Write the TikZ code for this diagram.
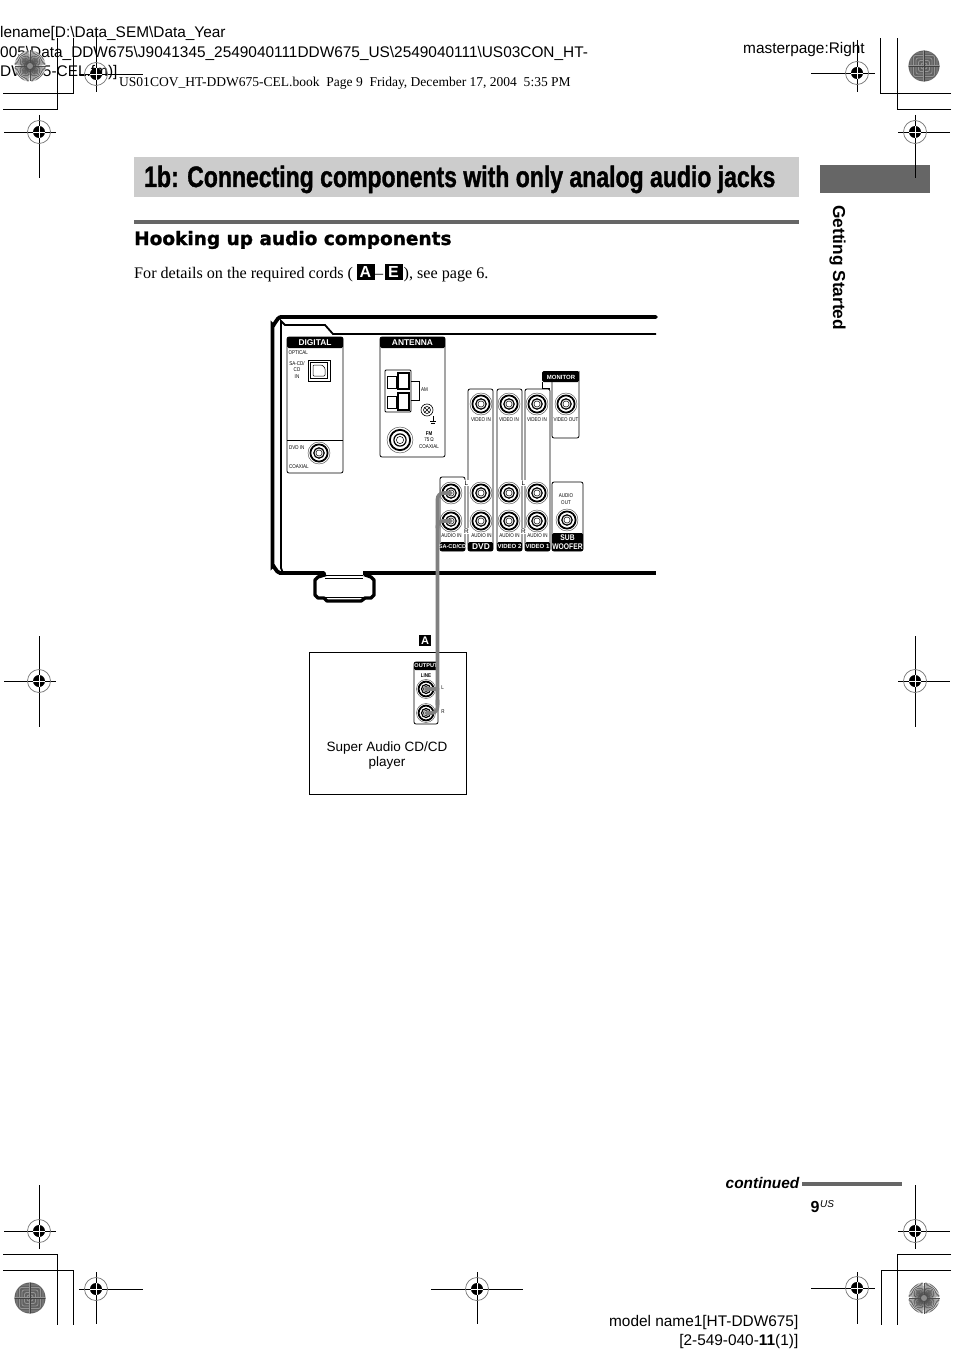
\documentclass[tikz,border=0pt]{standalone}
\usepackage{fontspec}
\setmainfont{Liberation Serif}
\setsansfont{Liberation Sans}
\newfontfamily\titlefont[FakeStretch=0.78,FakeBold=1.2]{Liberation Sans Bold}
\newfontfamily\headfont[FakeBold=1.2]{DejaVu Sans Bold}
\newfontfamily\narrowfont[FakeStretch=0.82]{Liberation Sans}
\usetikzlibrary{positioning}
\def\fs#1#2{\fontsize{#1}{#2}\selectfont}
\def\regmark#1#2#3#4#5#6{%
  \draw[regline] (#3,#2) -- (#4,#2) (#1,#5) -- (#1,#6);
  \draw[black!55, line width=.7pt] (#1,#2) circle (11.5);
  \fill (#1,#2) circle (6);
  \draw[white, line width=.7pt] (#1-6,#2) -- (#1+6,#2) (#1,#2-6) -- (#1,#2+6);}
\def\spokedisc#1#2{%
  \fill[white] (#1,#2) circle (15.5);
  \foreach \a in {0,5,...,355} \draw[black!70, line width=.55pt] (#1,#2) -- ++(\a:15.5);
  \fill[black!45] (#1,#2) circle (3);}
\def\darkdisc#1#2{%
  \begin{scope}
    \clip (#1,#2) circle (15.5);
    \fill[black!62] (#1-16,#2-16) rectangle (#1+16,#2+16);
    \foreach \r in {3,5.5,8,10.5,13}
      \draw[black!42, line width=.8pt, rounded corners=2pt] (#1-\r,#2-\r) rectangle (#1+\r,#2+\r);
    \draw[black!42, line width=2.5pt] (#1-16,#2) -- (#1+16,#2) (#1,#2-16) -- (#1,#2+16);
    \draw[black!75, line width=.6pt] (#1-16,#2) -- (#1+16,#2) (#1,#2-16) -- (#1,#2+16);
  \end{scope}}
\begin{document}
\begin{tikzpicture}[
  x=1pt, y=-1pt,
  regline/.style={black, line width=.9pt},
  panel/.style={draw, line width=.8pt, rounded corners=2pt},
  strip/.style={fill=black, rounded corners=1.5pt},
  tiny/.style={font=\narrowfont\fs{5.5}{6.6}, align=center, inner sep=0pt},
  lrmark/.style={font=\sffamily\fs{6.5}{6.5}, fill=white, inner sep=.5pt},
  striptext/.style={font=\sffamily\bfseries\fs{8.4}{6.6}, align=center, inner sep=0pt, white},
  body/.style={font=\sffamily\fs{13.5}{15}, inner sep=0pt},
  header/.style={font=\sffamily\fs{15.4}{20}, inner sep=0pt, anchor=base west, align=left},
  cordline/.style={font=\fs{16.15}{18}, inner sep=0pt, anchor=base west},
  cable/.style={black!50, line width=3.6pt, line cap=round},
  cordbox/.style={fill=black, text=white, font=\sffamily\bfseries\fs{16}{16}, minimum width=18, minimum height=16.5, inner sep=0pt},
  pics/jack/.style={code={
    \node[circle, inner sep=0pt, minimum size=2pt] (-c) at (0,0) {};
    \draw[line width=.45pt, black!70] (0,0) circle (#1);
    \draw[line width=1.8pt] (0,0) circle (#1*.78);
    \draw[line width=1.2pt] (0,0) circle (#1*.47);
    \draw[line width=.5pt] (0,0) circle (#1*.28);}}]
  \useasboundingbox (0,0) rectangle (954,1364);
  \fill[white] (0,0) rectangle (954,1364);

  % slug lines
  \node[header] (slugone) at (0,38) {lename[D:\textbackslash Data\_SEM\textbackslash Data\_Year};
  \node[header] (slugtwo) at (0,58) {005\textbackslash Data\_DDW675\textbackslash J9041345\_2549040111DDW675\_US\textbackslash 2549040111\textbackslash US03CON\_HT-};
  \node[header] (slugthree) at (0,77) {DW675-CEL.fm)]};
  \node[header] (master) at (743,54) {masterpage:Right};
  \node[font=\fs{13.52}{15}, inner sep=0pt, anchor=base west] (book) at (119,87)
    {US01COV\_HT-DDW675-CEL.book\ \ Page 9\ \ Friday, December 17, 2004\ \ 5:35 PM};

  % printer marks
  \darkdisc{924}{66}
  \darkdisc{30}{1298}
  \spokedisc{30}{66}
  \spokedisc{924}{1298}
  \draw[regline] (3,93) -- (73,93) -- (73,38) (3,109) -- (57,109) -- (57,38);
  \draw[regline] (951,93) -- (880,93) -- (880,38) (951,109) -- (897,109) -- (897,38);
  \draw[regline] (3,1254) -- (57,1254) -- (57,1325) (3,1270) -- (73,1270) -- (73,1325);
  \draw[regline] (951,1254) -- (897,1254) -- (897,1325) (951,1270) -- (881,1270) -- (881,1325);

  % title
  \fill[black!20] (134,157) rectangle (799,197);
  \node[font=\titlefont\fs{29.5}{30}, inner sep=0pt, anchor=base west] (title) at (144,187)
    {1b: Connecting components with only analog audio jacks};
  \fill[black!60] (820,165) rectangle (929.5,193);
  \node[font=\sffamily\bfseries\fs{17.3}{17}, inner sep=0pt, rotate=-90, anchor=base west] (tab) at (833,205) {Getting Started};
  \draw[black!60, line width=3.5pt] (134,222) -- (799,222);
  \node[font=\headfont\fs{18.5}{18}, inner sep=0pt, anchor=base west] (hook) at (134,245) {Hooking up audio components};
  \node[cordline] (cordtext) at (134,278) {For details on the required cords (};
  \node[cordbox] (cordA) at (365.5,272) {A};
  \node[cordline] (dash) at (375,278) {--};
  \node[cordbox] (cordE) at (393.5,272) {E};
  \node[cordline] (cordend) at (403.5,278) {), see page 6.};

  % receiver outline
  \draw[line width=3.8pt, line cap=round] (656,317) -- (281,317) to[out=180,in=-90] (272.5,325) -- (272.5,566)
    to[out=90,in=180] (280,573) -- (324,573);
  \draw[line width=3.8pt] (363,573) -- (656,573);
  \draw[line width=1.8pt] (656,334) -- (333,334) -- (325,325) -- (285,325) -- (281,321) -- (281,568) -- (283,573);
  \draw[line width=3.4pt, line join=round] (326,574.5) -- (318,577) -- (315,580) -- (315,595) -- (318,598) -- (324,598) -- (327,601)
    -- (361,601) -- (365,598) -- (371,598) -- (374,595) -- (374,580) -- (371,577) -- (364,574.5);
  \draw[line width=.8pt] (325,575.5) -- (363,575.5) (325,578.5) -- (363,578.5) (325,597) -- (364,597);

  % digital panel
  \draw[panel] (287,337) rectangle (343,473);
  \fill[strip] (287,337) rectangle (343,348);
  \node[striptext] (digital) at (315,343) {DIGITAL};
  \draw[line width=.7pt] (287,440) -- (343,440);
  \node[tiny, anchor=west] (optical) at (288.5,353) {OPTICAL};
  \node[tiny] (sacd) at (297,370) {SA-CD/\\CD\\IN};
  \draw[line width=1pt] (308,360) rectangle (330,381);
  \draw[line width=.8pt] (310.5,362.5) rectangle (327.5,378.5);
  \draw[line width=.5pt, rounded corners=1pt] (313,365) -- (322,365) -- (325,368) -- (325,376) -- (313,376) -- cycle;
  \node[tiny, anchor=west] (dvdin) at (289,448) {DVD IN};
  \pic (dvdjack) at (319,453) {jack=11};
  \node[tiny, anchor=west] (coaxial) at (289,467) {COAXIAL};

  % antenna panel
  \draw[panel] (380,337) rectangle (445,457);
  \fill[strip] (380,337) rectangle (445,348);
  \node[striptext] (antenna) at (412.5,343) {ANTENNA};
  \draw[line width=.8pt, rounded corners=1pt] (385,370) rectangle (411,412);
  \draw[line width=.8pt] (387.5,376) rectangle (396,388) (387.5,396) rectangle (396,408);
  \draw[line width=1.1pt] (398,373) rectangle (409,389) (398,393) rectangle (409,410);
  \draw[line width=.7pt] (411,381) -- (419,381) -- (419,400) -- (411,400);
  \node[tiny, anchor=west] (am) at (421,390) {AM};
  \draw[line width=.6pt] (427,410) circle (6) (427,410) circle (3.5) (424.5,407.5) -- (429.5,412.5) (429.5,407.5) -- (424.5,412.5);
  \draw[line width=.5pt] (433,416) -- (433,421) (430,421) -- (436,421) (431,423) -- (435,423);
  \pic (fmjack) at (400,440) {jack=13};
  \node[tiny] (fm) at (429,440) {\textbf{FM}\\75\,Ω\\COAXIAL};

  % rca groups
  \draw[panel] (440,477) rectangle (465,551);
  \draw[panel] (468,389) rectangle (493,551);
  \draw[panel] (497,389) rectangle (522,551);
  \draw[panel] (525,389) rectangle (550,551);
  \draw[panel] (552,382) -- (552,438) -- (579,438) -- (579,371);
  \draw[line width=.8pt] (542,382) -- (542,388) -- (550,388);
  \fill[strip] (542,371) rectangle (579,382);
  \node[striptext, font=\sffamily\bfseries\fs{6}{6}] (monitor) at (561,377) {MONITOR};
  \draw[panel] (552,482) rectangle (583,551);
  \fill[strip] (440,542) rectangle (465,551);
  \fill[strip] (468,542) rectangle (493,551);
  \fill[strip] (497,542) rectangle (522,551);
  \fill[strip] (525,542) rectangle (550,551);
  \fill[strip] (552,533) rectangle (583,551);
  \node[striptext, font=\sffamily\bfseries\fs{5.6}{6}] (sacdlabel) at (452.5,546.5) {SA-CD/CD};
  \node[striptext] (dvdlabel) at (481,546.5) {DVD};
  \node[striptext, font=\sffamily\bfseries\fs{6}{6}] (videotwo) at (509.5,546.5) {VIDEO 2};
  \node[striptext, font=\sffamily\bfseries\fs{6}{6}] (videoone) at (537.5,546.5) {VIDEO 1};
  \node[striptext, font=\narrowfont\bfseries\fs{8.2}{8.6}] (woofer) at (567.5,542) {SUB\\WOOFER};
  \foreach \x/\n in {481/dvd,509/vtwo,537/vone} {
    \pic (\n v) at (\x,404) {jack=11};
    \node[tiny] (\n vt) at (\x,419.5) {VIDEO IN};
  }
  \foreach \x/\n in {451/sacd,481/dvd,509/vtwo,537/vone} {
    \pic (\n l) at (\x,493) {jack=11};
    \pic (\n r) at (\x,521) {jack=11};
    \node[tiny] (\n at) at (\x+.5,535.5) {AUDIO IN};
  }
  \pic (vout) at (566,404) {jack=11};
  \node[tiny] (vouttext) at (566,419.5) {VIDEO OUT};
  \pic (sub) at (567,520) {jack=11};
  \node[tiny] (audioout) at (566,499) {AUDIO\\OUT};
  \node[lrmark] (lone) at (466.5,483) {L};
  \node[lrmark] (rone) at (466.5,531) {R};
  \node[lrmark] (ltwo) at (523.5,483) {L};
  \node[lrmark] (rtwo) at (523.5,531) {R};

  % player
  \draw[line width=.7pt] (309,652) rectangle (466,794);
  \node[body, align=center] (player) at (387,756) {Super Audio CD/CD\\player};
  \node[cordbox, minimum width=12, minimum height=11.5, font=\sffamily\bfseries\fs{11}{11}] (cord) at (425,640.5) {A};
  \draw[panel] (414,662) rectangle (438,724);
  \fill[strip] (414,662) rectangle (438,670);
  \node[striptext, font=\sffamily\bfseries\fs{5.6}{6}] (output) at (426,666) {OUTPUT};
  \node[tiny] (line) at (426,676) {\textbf{LINE}};
  \pic (outl) at (426,689) {jack=9.5};
  \pic (outr) at (426,713) {jack=9.5};
  \node[tiny] (outlt) at (442.5,688) {L};
  \node[tiny] (outrt) at (443,712) {R};

  % cable
  \draw[cable, rounded corners=6pt] (sacdl-c.center) -- (437.5,493) -- (437.5,705);
  \draw[cable, rounded corners=5pt] (sacdr-c.center) -- (437.5,521) -- (437.5,528);
  \draw[cable] (outl-c.center) -- (437.5,689);
  \draw[cable, rounded corners=6pt] (437.5,700) -- (437.5,713) -- (outr-c.center);

  % registration marks
  \regmark{96}{74}{79}{143}{30}{92}
  \regmark{39}{132}{4}{56}{115}{178}
  \regmark{857}{73}{811}{875}{40}{92}
  \regmark{915}{132}{898}{950}{115}{178}
  \regmark{39}{681}{4}{56}{636}{727}
  \regmark{915}{681}{898}{950}{636}{727}
  \regmark{39}{1231}{4}{56}{1185}{1249}
  \regmark{96}{1289}{79}{143}{1272}{1324}
  \regmark{477}{1289}{431}{523}{1272}{1324}
  \regmark{857}{1288}{811}{875}{1272}{1324}
  \regmark{915}{1231}{898}{950}{1185}{1249}

  % footer
  \node[font=\sffamily\bfseries\itshape\fs{15.4}{15}, inner sep=0pt, anchor=base east] (contd) at (799.5,1188) {continued};
  \draw[black!60, line width=3.5pt] (802,1184) -- (902,1184);
  \node[font=\sffamily\bfseries\fs{16}{16}, inner sep=0pt, anchor=base west] (pageno) at (810.5,1212) {9};
  \node[font=\sffamily\itshape\fs{10}{10}, inner sep=0pt, anchor=base west] (us) at (820,1207) {US};
  \node[header, anchor=base east, align=right] (model) at (798.5,1326) {model name1[HT-DDW675]};
  \node[header, anchor=base east, align=right] (part) at (798.5,1345) {[2-549-040-\textbf{11}(1)]};
\end{tikzpicture}
\end{document}
